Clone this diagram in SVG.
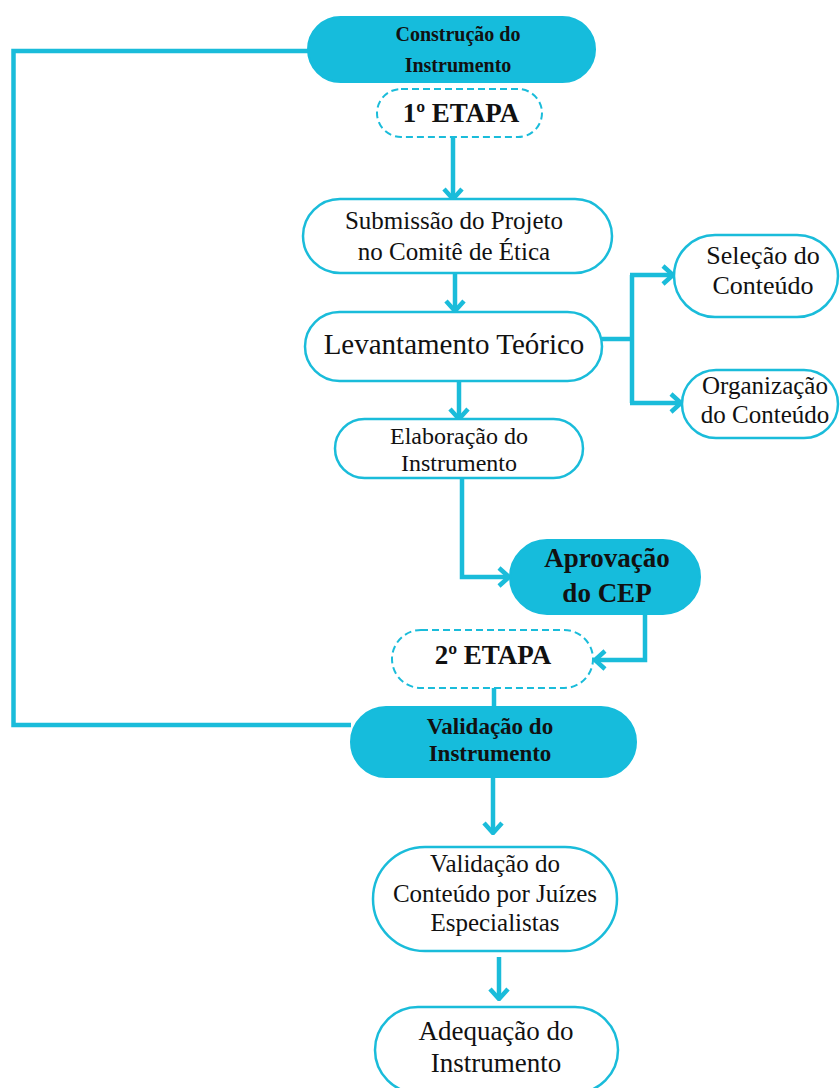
<svg xmlns="http://www.w3.org/2000/svg" width="840" height="1088" viewBox="0 0 840 1088">
<defs>
<style>
.box{fill:#fff;stroke:#1ABCDA;stroke-width:2.5}
.fill{fill:#16BCDC;stroke:#16BCDC;stroke-width:2}
.dash{fill:#fff;stroke:#1ABCDA;stroke-width:2;stroke-dasharray:7 4}
.t{font-family:"Liberation Serif","Times New Roman",serif;fill:#111;text-anchor:middle}
.b{font-weight:bold}
.c{fill:none;stroke:#1ABCDA;stroke-width:4.5;stroke-linejoin:miter}
</style>
<marker id="ah" viewBox="0 0 14 22" refX="12" refY="11" markerWidth="14" markerHeight="22" markerUnits="userSpaceOnUse" orient="auto">
<path d="M2,2 L12,11 L2,20" fill="none" stroke="#1ABCDA" stroke-width="4.5"/>
</marker>
</defs>
<rect width="840" height="1088" fill="#fff"/>
<g id="connectors">
<path class="c" d="M308,51 H13.5 V725 H351"/>
<path class="c" d="M453,137 V199" marker-end="url(#ah)"/>
<path class="c" d="M455,273 V311" marker-end="url(#ah)"/>
<path class="c" d="M459,381 V419" marker-end="url(#ah)"/>
<path class="c" d="M602,339 H632"/>
<path class="c" d="M632,275 V403"/>
<path class="c" d="M630,275 H673" marker-end="url(#ah)"/>
<path class="c" d="M630,403 H681" marker-end="url(#ah)"/>
<path class="c" d="M462,478 V577 H509" marker-end="url(#ah)"/>
<path class="c" d="M645,614 V660 H595" marker-end="url(#ah)"/>
<path class="c" d="M494,688 V707"/>
<path class="c" d="M493,777 V833" marker-end="url(#ah)"/>
<path class="c" d="M499,957 V999" marker-end="url(#ah)"/>
</g>
<g id="n-construcao">
<rect class="fill" x="308" y="17" width="287" height="65" rx="32.5"/>
<text class="t b" x="458" y="41" font-size="20">Construção do</text>
<text class="t b" x="458" y="72" font-size="20">Instrumento</text>
</g>
<g id="n-etapa1">
<rect class="dash" x="377" y="89" width="165" height="48" rx="24"/>
<text class="t b" x="461" y="122" font-size="27">1º ETAPA</text>
</g>
<g id="n-submissao">
<rect class="box" x="303" y="199" width="309" height="74" rx="37"/>
<text class="t" x="454" y="229" font-size="25">Submissão do Projeto</text>
<text class="t" x="454" y="260" font-size="25">no Comitê de Ética</text>
</g>
<g id="n-levantamento">
<rect class="box" x="305" y="312" width="297" height="69" rx="34.5"/>
<text class="t" x="454" y="354" font-size="29">Levantamento Teórico</text>
</g>
<g id="n-elaboracao">
<rect class="box" x="335" y="419" width="248" height="59" rx="29.5"/>
<text class="t" x="459" y="444" font-size="24">Elaboração do</text>
<text class="t" x="459" y="471" font-size="24">Instrumento</text>
</g>
<g id="n-selecao">
<rect class="box" x="674" y="235" width="164" height="82" rx="41"/>
<text class="t" x="763" y="264" font-size="26">Seleção do</text>
<text class="t" x="763" y="294" font-size="26">Conteúdo</text>
</g>
<g id="n-organizacao">
<rect class="box" x="682" y="370" width="156" height="68" rx="34"/>
<text class="t" x="765" y="394" font-size="25">Organização</text>
<text class="t" x="765" y="423" font-size="25">do Conteúdo</text>
</g>
<g id="n-aprovacao">
<rect class="fill" x="510" y="540" width="190" height="74" rx="37"/>
<text class="t b" x="607" y="567" font-size="27">Aprovação</text>
<text class="t b" x="607" y="602" font-size="27">do CEP</text>
</g>
<g id="n-etapa2">
<rect class="dash" x="392" y="630" width="201" height="58" rx="29"/>
<text class="t b" x="493" y="664" font-size="27">2º ETAPA</text>
</g>
<g id="n-validacao-inst">
<rect class="fill" x="351" y="707" width="285" height="70" rx="35"/>
<text class="t b" x="490" y="734" font-size="23">Validação do</text>
<text class="t b" x="490" y="761" font-size="23">Instrumento</text>
</g>
<g id="n-validacao-cont">
<rect class="box" x="373" y="847" width="244" height="104" rx="52"/>
<text class="t" x="495" y="872" font-size="25">Validação do</text>
<text class="t" x="495" y="902" font-size="25">Conteúdo por Juízes</text>
<text class="t" x="495" y="931" font-size="25">Especialistas</text>
</g>
<g id="n-adequacao">
<rect class="box" x="375" y="1007" width="243" height="86" rx="43"/>
<text class="t" x="496" y="1040" font-size="27">Adequação do</text>
<text class="t" x="496" y="1072" font-size="27">Instrumento</text>
</g>
</svg>
